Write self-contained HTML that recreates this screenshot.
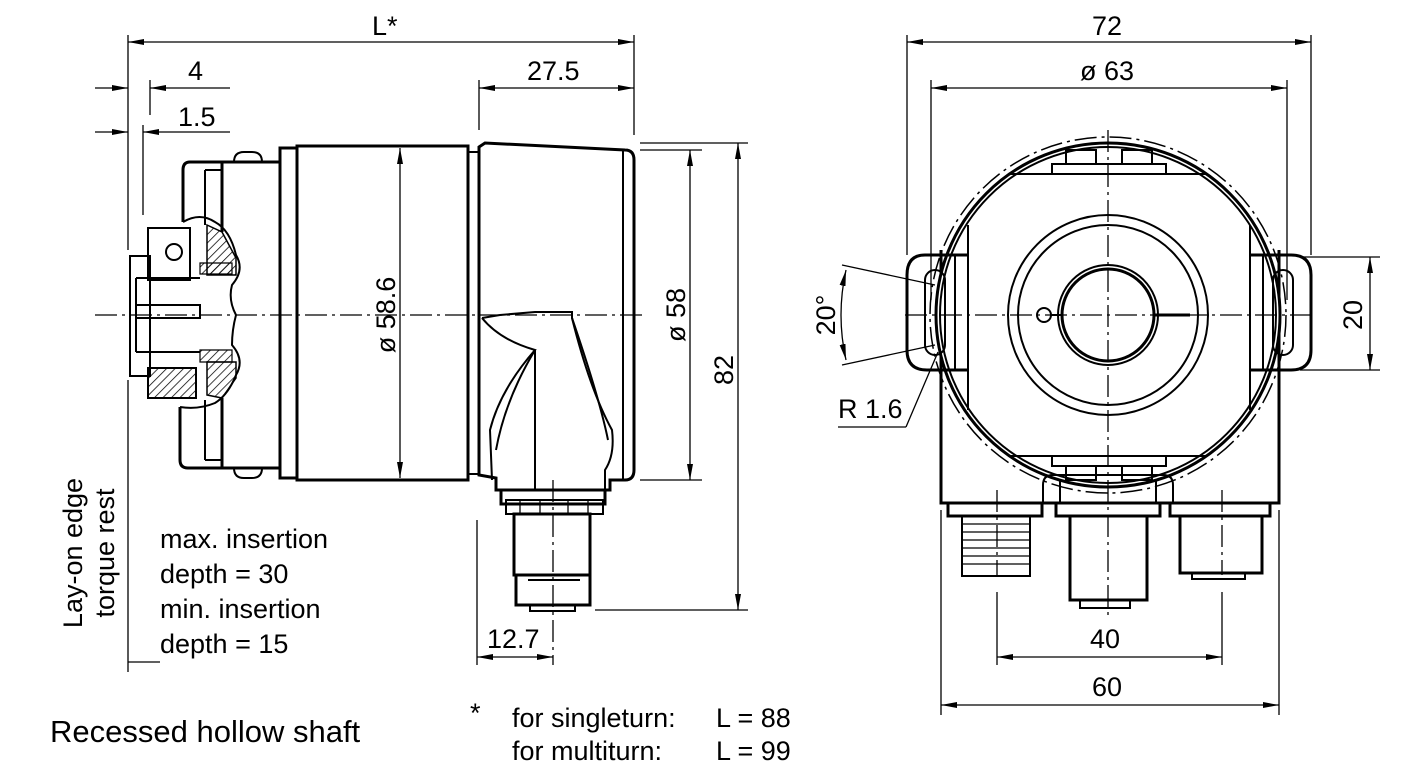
<!DOCTYPE html>
<html><head><meta charset="utf-8"><style>
html,body{margin:0;padding:0;background:#fff;}
svg{display:block;font-family:"Liberation Sans",Arial,sans-serif;}
text{font-size:27px;fill:#000;}
.t{stroke:#000;stroke-width:3;fill:none;}
.m{stroke:#000;stroke-width:2;fill:none;}
.d{stroke:#000;stroke-width:1.3;fill:none;}
.c{stroke:#000;stroke-width:1.3;fill:none;stroke-dasharray:22 5 3 5;}
</style></head><body>
<svg width="1418" height="780" viewBox="0 0 1418 780" xmlns="http://www.w3.org/2000/svg">
<defs>
<marker id="a" viewBox="0 0 16 6" refX="16" refY="3" markerWidth="16" markerHeight="6" orient="auto-start-reverse" markerUnits="userSpaceOnUse"><path d="M0,0 L16,3 L0,6 z" fill="#000"/></marker>
<pattern id="h" width="6" height="6" patternUnits="userSpaceOnUse" patternTransform="rotate(45)"><line x1="0" y1="0" x2="0" y2="6" stroke="#000" stroke-width="1.5"/></pattern>
</defs>

<!-- ========== LEFT VIEW ========== -->
<line class="d" x1="128" y1="42" x2="634" y2="42" marker-start="url(#a)" marker-end="url(#a)"/>
<text x="372" y="35">L*</text>
<line class="d" x1="95" y1="88" x2="128" y2="88" marker-end="url(#a)"/>
<line class="d" x1="230" y1="88" x2="150" y2="88" marker-end="url(#a)"/>
<text x="188" y="80">4</text>
<line class="d" x1="95" y1="132" x2="128" y2="132" marker-end="url(#a)"/>
<line class="d" x1="230" y1="132" x2="143" y2="132" marker-end="url(#a)"/>
<text x="178" y="126">1.5</text>
<line class="d" x1="128" y1="35" x2="128" y2="250"/>
<line class="d" x1="128" y1="380" x2="128" y2="672"/>
<line class="d" x1="150" y1="80" x2="150" y2="115"/>
<line class="d" x1="143" y1="125" x2="143" y2="215"/>
<line class="d" x1="128" y1="662" x2="160" y2="662"/>
<line class="d" x1="634" y1="35" x2="634" y2="135"/>
<line class="d" x1="479" y1="80" x2="479" y2="130"/>
<line class="d" x1="479" y1="88" x2="634" y2="88" marker-start="url(#a)" marker-end="url(#a)"/>
<text x="527" y="80">27.5</text>

<line class="c" x1="95" y1="315" x2="645" y2="315"/>

<path class="t" d="M215,162 L190,162 Q183,162 183,170 L183,222"/>
<path class="t" d="M180,407 L180,460 Q180,468 188,468 L215,468"/>
<line class="m" x1="205" y1="170" x2="205" y2="225"/>
<line class="m" x1="205" y1="400" x2="205" y2="460"/>
<line class="m" x1="205" y1="170" x2="222" y2="170"/>
<line class="m" x1="205" y1="460" x2="222" y2="460"/>
<path class="t" d="M222,162 L222,232 M222,398 L222,468"/>
<path class="t" d="M215,162 L280,162 M215,468 L280,468"/>
<path class="m" d="M183,222 Q200,212 215,222 Q230,230 236,255 Q245,270 232,285 Q228,300 236,315 Q232,330 232,345 Q245,360 236,375 Q228,395 215,403 Q198,410 180,407"/>
<path d="M207,225 L222,232 L236,258 L236,275 L207,275 z" fill="url(#h)" stroke="#000" stroke-width="1.5"/>
<path d="M200,263 L232,263 L232,274 L200,274 z" fill="url(#h)" stroke="#000" stroke-width="1.2"/>
<path d="M200,350 L232,350 L232,362 L200,362 z" fill="url(#h)" stroke="#000" stroke-width="1.2"/>
<path d="M207,362 L236,362 L236,378 L222,398 L207,395 z" fill="url(#h)" stroke="#000" stroke-width="1.5"/>
<rect class="m" x="130" y="256" width="20" height="120"/>
<rect class="m" x="148" y="228" width="42" height="52"/>
<circle class="m" cx="174" cy="252" r="8"/>
<path class="m" d="M136,278 L200,278 M136,352 L200,352 M136,278 L136,352"/>
<path class="m" d="M136,305 L200,305 L200,318 L136,318"/>
<rect x="148" y="368" width="48" height="30" fill="url(#h)" stroke="#000" stroke-width="2"/>
<path class="m" d="M234,162 Q234,152 244,152 L252,152 Q262,152 262,162"/>
<path class="m" d="M234,468 Q234,478 244,478 L252,478 Q262,478 262,468"/>
<rect class="t" x="280" y="148" width="17" height="330"/>
<rect class="t" x="297" y="146" width="171" height="334"/>
<rect class="m" x="468" y="152" width="11" height="322"/>
<path class="t" d="M479,147 L485,143 L625,150 Q634,150 634,160 L634,470 Q634,480 625,480 L610,480 L610,490 L496,490 L496,478 L479,475 z"/>
<line class="m" x1="623" y1="150" x2="623" y2="480"/>
<path class="m" d="M482,318 L500,315 L535,312 L572,312 L572,318 Q590,390 612,430 Q615,455 605,470 L605,490"/>
<path class="m" d="M482,318 Q500,340 535,350 Q500,390 490,430 L492,480"/>
<path class="m" d="M535,350 Q505,400 496,450"/>
<path class="m" d="M572,318 Q600,400 608,440"/>
<line class="m" x1="535" y1="350" x2="535" y2="490"/>
<rect class="t" x="501" y="490" width="104" height="14"/>
<rect class="m" x="506" y="500" width="97" height="14"/>
<line class="d" x1="520" y1="500" x2="520" y2="514"/><line class="d" x1="540" y1="500" x2="540" y2="514"/><line class="d" x1="568" y1="500" x2="568" y2="514"/><line class="d" x1="588" y1="500" x2="588" y2="514"/>
<rect class="t" x="514" y="514" width="76" height="61"/>
<rect class="t" x="516" y="575" width="74" height="30"/>
<path class="m" d="M530,605 L530,611 L575,611 L575,605"/>
<line class="m" x1="528" y1="580" x2="580" y2="580"/>
<line class="c" x1="553" y1="480" x2="553" y2="665"/>

<line class="d" x1="400" y1="148" x2="400" y2="478" marker-start="url(#a)" marker-end="url(#a)"/>
<text transform="translate(395,315) rotate(-90)" text-anchor="middle">ø 58.6</text>
<line class="d" x1="640" y1="150" x2="702" y2="150"/>
<line class="d" x1="640" y1="480" x2="702" y2="480"/>
<line class="d" x1="690" y1="150" x2="690" y2="480" marker-start="url(#a)" marker-end="url(#a)"/>
<text transform="translate(685,315) rotate(-90)" text-anchor="middle">ø 58</text>
<line class="d" x1="640" y1="143" x2="748" y2="143"/>
<line class="d" x1="595" y1="610" x2="748" y2="610"/>
<line class="d" x1="738" y1="143" x2="738" y2="610" marker-start="url(#a)" marker-end="url(#a)"/>
<text transform="translate(733,370) rotate(-90)" text-anchor="middle">82</text>
<line class="d" x1="477" y1="520" x2="477" y2="665"/>
<line class="d" x1="477" y1="657" x2="553" y2="657" marker-start="url(#a)" marker-end="url(#a)"/>
<text x="487" y="648">12.7</text>

<text transform="translate(82,553) rotate(-90)" text-anchor="middle">Lay-on edge</text>
<text transform="translate(114,553) rotate(-90)" text-anchor="middle">torque rest</text>
<text x="160" y="548">max. insertion</text>
<text x="160" y="583">depth = 30</text>
<text x="160" y="618">min.  insertion</text>
<text x="160" y="653">depth = 15</text>
<text x="50" y="742" style="font-size:31px">Recessed hollow shaft</text>
<text x="470" y="722">*</text>
<text x="512" y="727">for singleturn:</text>
<text x="716" y="727">L = 88</text>
<text x="512" y="760">for multiturn:</text>
<text x="716" y="760">L = 99</text>

<!-- ========== RIGHT VIEW ========== -->
<line class="d" x1="907" y1="35" x2="907" y2="255"/>
<line class="d" x1="1311" y1="35" x2="1311" y2="255"/>
<line class="d" x1="907" y1="42" x2="1311" y2="42" marker-start="url(#a)" marker-end="url(#a)"/>
<text x="1092" y="35">72</text>
<line class="d" x1="931" y1="80" x2="931" y2="300"/>
<line class="d" x1="1287" y1="80" x2="1287" y2="300"/>
<line class="d" x1="931" y1="88" x2="1287" y2="88" marker-start="url(#a)" marker-end="url(#a)"/>
<text x="1080" y="80">ø 63</text>

<path class="t" d="M941,250 L941,503 L1279,503 L1279,250"/>
<circle cx="1108" cy="315" r="178" fill="none" stroke="#000" stroke-width="1.5" stroke-dasharray="22 5 3 5"/>
<circle cx="1108" cy="315" r="172" fill="#fff" stroke="#000" stroke-width="3"/>
<circle class="m" cx="1108" cy="315" r="168"/>
<rect class="m" x="1066" y="150" width="30" height="14"/>
<rect class="m" x="1122" y="150" width="30" height="14"/>
<rect class="m" x="1052" y="164" width="114" height="10"/>
<line class="m" x1="1010" y1="174" x2="1206" y2="174"/>
<rect class="m" x="1066" y="466" width="30" height="14"/>
<rect class="m" x="1122" y="466" width="30" height="14"/>
<rect class="m" x="1052" y="456" width="114" height="10"/>
<line class="m" x1="1010" y1="456" x2="1206" y2="456"/>
<line class="m" x1="968" y1="225" x2="968" y2="410"/>
<line class="m" x1="1250" y1="225" x2="1250" y2="410"/>
<path class="t" d="M968,255 L925,255 Q907,255 907,275 L907,350 Q907,370 927,370 L968,370"/>
<path class="t" d="M1250,255 L1291,255 Q1311,255 1311,275 L1311,350 Q1311,370 1291,370 L1250,370"/>
<line class="m" x1="955" y1="255" x2="955" y2="370"/>
<line class="m" x1="1263" y1="255" x2="1263" y2="370"/>
<rect class="m" x="925" y="270" width="20" height="85" rx="10"/>
<rect class="m" x="1273" y="270" width="20" height="85" rx="10"/>
<circle class="m" cx="1108" cy="315" r="100"/>
<circle class="m" cx="1108" cy="315" r="90"/>
<circle class="m" cx="1108" cy="315" r="50"/>
<circle class="t" cx="1108" cy="315" r="46"/>
<circle class="m" cx="1044" cy="315" r="7"/>
<line class="m" x1="1051" y1="315" x2="1062" y2="315"/>
<line class="t" x1="1154" y1="315" x2="1190" y2="315"/>
<line class="c" x1="905" y1="315" x2="1315" y2="315"/>
<line class="c" x1="1108" y1="130" x2="1108" y2="615"/>
<path class="m" d="M1043,503 L1043,485 Q1043,475 1053,475 L1163,475 Q1173,475 1173,485 L1173,503"/>
<line class="m" x1="1060" y1="480" x2="1060" y2="503"/>
<line class="m" x1="1156" y1="480" x2="1156" y2="503"/>
<rect class="t" x="948" y="503" width="94" height="13"/>
<rect class="m" x="962" y="516" width="68" height="60"/>
<g class="d"><line x1="962" y1="524" x2="1030" y2="524"/><line x1="962" y1="532" x2="1030" y2="532"/><line x1="962" y1="540" x2="1030" y2="540"/><line x1="962" y1="548" x2="1030" y2="548"/><line x1="962" y1="556" x2="1030" y2="556"/><line x1="962" y1="564" x2="1030" y2="564"/></g>
<line class="c" x1="997" y1="490" x2="997" y2="575"/>
<rect class="t" x="1056" y="503" width="104" height="13"/>
<rect class="t" x="1070" y="516" width="77" height="84"/>
<path class="m" d="M1080,600 L1080,608 L1130,608 L1130,600"/>
<rect class="t" x="1170" y="503" width="100" height="13"/>
<rect class="t" x="1180" y="516" width="82" height="57"/>
<path class="m" d="M1192,573 L1192,579 L1245,579 L1245,573"/>
<line class="c" x1="1222" y1="490" x2="1222" y2="575"/>

<line class="d" x1="941" y1="510" x2="941" y2="715"/>
<line class="d" x1="1279" y1="510" x2="1279" y2="715"/>
<line class="d" x1="997" y1="592" x2="997" y2="665"/>
<line class="d" x1="1222" y1="592" x2="1222" y2="665"/>
<line class="d" x1="997" y1="657" x2="1222" y2="657" marker-start="url(#a)" marker-end="url(#a)"/>
<text x="1090" y="648">40</text>
<line class="d" x1="941" y1="705" x2="1279" y2="705" marker-start="url(#a)" marker-end="url(#a)"/>
<text x="1092" y="696">60</text>
<line class="d" x1="1300" y1="257" x2="1380" y2="257"/>
<line class="d" x1="1300" y1="370" x2="1380" y2="370"/>
<line class="d" x1="1370" y1="257" x2="1370" y2="370" marker-start="url(#a)" marker-end="url(#a)"/>
<text transform="translate(1362,315) rotate(-90)" text-anchor="middle">20</text>
<line class="d" x1="842" y1="265" x2="935" y2="285"/>
<line class="d" x1="842" y1="365" x2="935" y2="345"/>
<path class="d" d="M846,270 Q836,315 846,360" marker-start="url(#a)" marker-end="url(#a)"/>
<text transform="translate(835,315) rotate(-90)" text-anchor="middle">20°</text>
<text x="838" y="418">R 1.6</text>
<line class="d" x1="838" y1="427" x2="906" y2="427"/>
<line class="d" x1="906" y1="427" x2="938" y2="352"/>
</svg>
</body></html>
